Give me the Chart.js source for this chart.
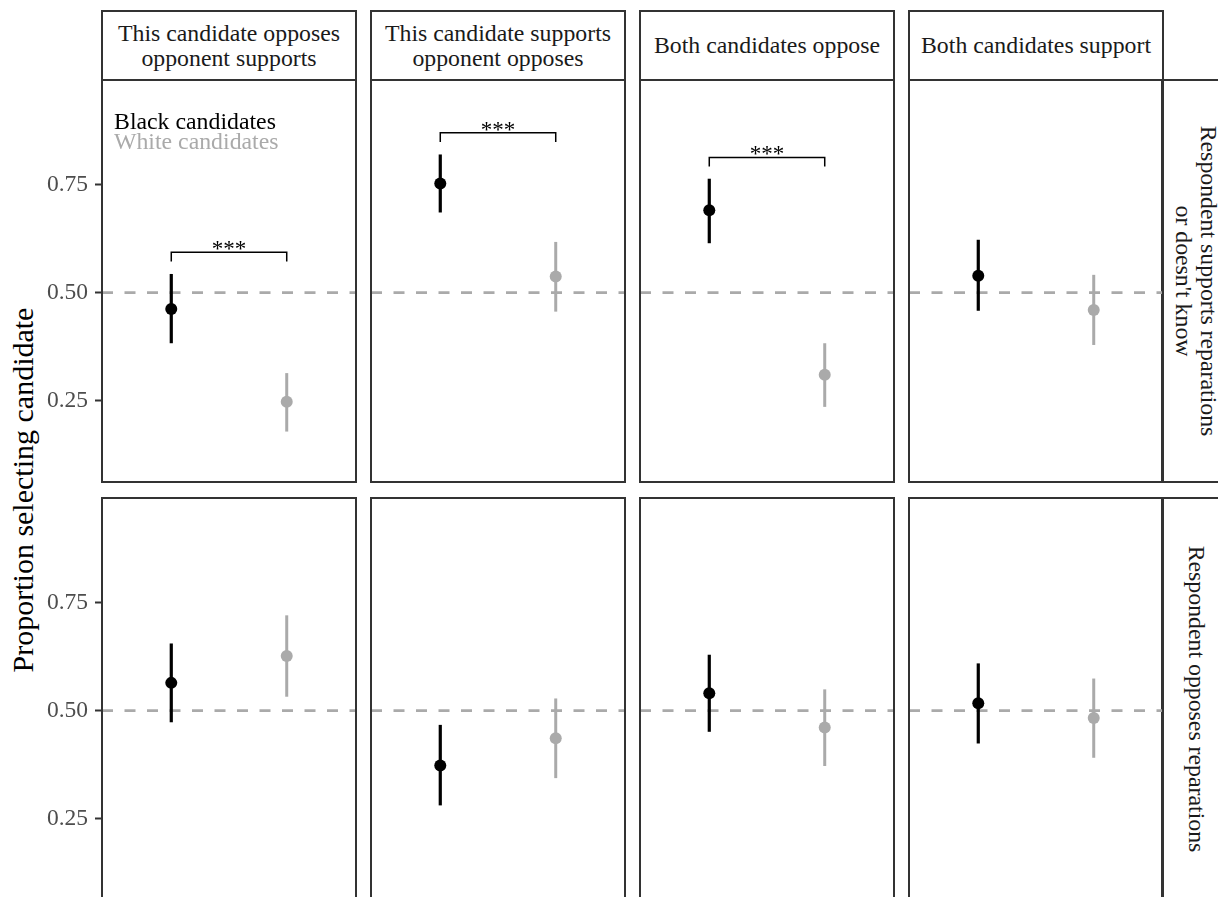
<!DOCTYPE html>
<html>
<head>
<meta charset="utf-8">
<title>Proportion selecting candidate</title>
<script src="https://cdn.jsdelivr.net/npm/chart.js@4.4.1/dist/chart.umd.min.js"></script>
<style>
  html, body { margin: 0; padding: 0; background: #fff; }
  #fig {
    position: relative; width: 1218px; height: 897px; overflow: hidden; background: #fff;
    font-family: "Liberation Serif", "Times New Roman", serif;
  }
  .strip {
    position: absolute; box-sizing: border-box; border: 2px solid #333; background: #fff;
    display: flex; align-items: center; justify-content: center;
    text-align: center; color: #1a1a1a; font-size: 23.8px; line-height: 25px; white-space: pre;
  }
  .rot { position: absolute; white-space: pre; text-align: center; }
  canvas { position: absolute; }
</style>
</head>
<body>
<div id="fig"></div>
<script>
// Facet labels
const columnFacets = [
  'This candidate opposes\nopponent supports',
  'This candidate supports\nopponent opposes',
  'Both candidates oppose',
  'Both candidates support'
];
const rowFacets = [
  "Respondent supports reparations\nor doesn't know",
  'Respondent opposes reparations'
];
const groups = ['Black candidates', 'White candidates'];
const yTitle = 'Proportion selecting candidate';

// Estimates and 95% intervals, panels in row-major order (row 1: cols 1-4, row 2: cols 1-4)
const blackEst  = [0.462, 0.752, 0.690, 0.539, 0.564, 0.373, 0.540, 0.517];
const blackLow  = [0.383, 0.685, 0.614, 0.458, 0.473, 0.281, 0.451, 0.424];
const blackHigh = [0.543, 0.819, 0.763, 0.622, 0.655, 0.467, 0.629, 0.609];
const whiteEst  = [0.248, 0.537, 0.310, 0.460, 0.626, 0.436, 0.461, 0.483];
const whiteLow  = [0.179, 0.456, 0.236, 0.379, 0.532, 0.344, 0.372, 0.391];
const whiteHigh = [0.314, 0.617, 0.383, 0.541, 0.720, 0.528, 0.549, 0.574];

// Significance brackets (null = none drawn)
const sigLabel = ['***', '***', '***', null, null, null, null, null];
const bracketY = [0.593, 0.869, 0.812, null, null, null, null, null];

const chanceLevel = 0.5;
const yTicks = [0.25, 0.5, 0.75];
const yTickLabels = ['0.25', '0.50', '0.75'];

// ---- styling / layout ----
const COLORS = { black: '#000000', white: '#aaaaaa', ref: '#aaaaaa', border: '#333333' };
const Y_MIN = 0.0625, Y_MAX = 0.991;
const X_MIN = 0.4, X_MAX = 2.6;
const COL_LEFT = [102, 371, 640, 909];
const PANEL_W = 254;
const ROW_TOP = [80, 498];
const PANEL_H = 402;
const STRIP_TOP = 11;
const AXIS_W = 102;
const BRACKET_TICK = 0.021;
const FONT = '"Liberation Serif", "Times New Roman", serif';

const fig = document.getElementById('fig');

function addDiv(cls, text, style) {
  const d = document.createElement('div');
  d.className = cls;
  d.textContent = text;
  Object.assign(d.style, style);
  fig.appendChild(d);
  return d;
}

// column strips
columnFacets.forEach((label, c) => {
  addDiv('strip', label, {
    left: (COL_LEFT[c] - 1) + 'px', top: (STRIP_TOP - 1) + 'px',
    width: (PANEL_W + 2) + 'px', height: (ROW_TOP[0] - STRIP_TOP + 2) + 'px'
  });
});

// row strips (right side)
const stripLeft = COL_LEFT[3] + PANEL_W - 1;
rowFacets.forEach((label, r) => {
  addDiv('strip', '', {
    left: (stripLeft - 1) + 'px', top: (ROW_TOP[r] - 1) + 'px',
    width: '90px', height: (PANEL_H + 2) + 'px'
  });
  addDiv('rot', label, {
    left: (stripLeft + 33.5) + 'px', top: (ROW_TOP[r] + PANEL_H / 2) + 'px',
    transform: 'translate(-50%, -50%) rotate(90deg)',
    fontSize: '23.8px', lineHeight: '25px', color: '#1a1a1a'
  });
});

// y-axis title
addDiv('rot', yTitle, {
  left: '23px', top: '490px',
  transform: 'translate(-50%, -50%) rotate(-90deg)',
  fontSize: '30px', lineHeight: '30px', color: '#000'
});

// panel frame, significance stars and in-panel key
const panelDecor = {
  id: 'panelDecor',
  afterDatasetsDraw(chart, args, opts) {
    const { ctx, scales: { x, y } } = chart;
    ctx.save();
    if (opts.stars) {
      ctx.font = '23px ' + FONT;
      ctx.fillStyle = '#000';
      ctx.textAlign = 'center';
      ctx.textBaseline = 'alphabetic';
      ctx.fillText(opts.stars, x.getPixelForValue(1.5), y.getPixelForValue(opts.bracket) + 4);
    }
    if (opts.key) {
      ctx.font = '23.8px ' + FONT;
      ctx.textAlign = 'left';
      ctx.textBaseline = 'alphabetic';
      opts.key.forEach(k => {
        ctx.fillStyle = k.color;
        ctx.fillText(k.text, x.getPixelForValue(k.x), y.getPixelForValue(k.y));
      });
    }
    ctx.restore();
  },
  afterDraw(chart) {
    const { ctx, chartArea: a } = chart;
    ctx.save();
    ctx.strokeStyle = COLORS.border;
    ctx.lineWidth = 2;
    ctx.strokeRect(a.left, a.top, a.right - a.left, a.bottom - a.top);
    ctx.restore();
  }
};

function panelDatasets(i) {
  const ds = [
    {
      label: groups.join(' / '),
      data: [{ x: 1, y: blackEst[i] }, { x: 2, y: whiteEst[i] }],
      showLine: false, pointRadius: 6, pointBorderWidth: 0,
      pointBackgroundColor: [COLORS.black, COLORS.white], order: 0
    },
    {
      label: groups[0],
      data: [{ x: 1, y: blackLow[i] }, { x: 1, y: blackHigh[i] }],
      showLine: true, pointRadius: 0, borderColor: COLORS.black, borderWidth: 3.2, order: 1
    },
    {
      label: groups[1],
      data: [{ x: 2, y: whiteLow[i] }, { x: 2, y: whiteHigh[i] }],
      showLine: true, pointRadius: 0, borderColor: COLORS.white, borderWidth: 3, order: 1
    },
    {
      label: 'chance',
      data: [{ x: X_MIN, y: chanceLevel }, { x: X_MAX, y: chanceLevel }],
      showLine: true, pointRadius: 0, borderColor: COLORS.ref, borderWidth: 2.6,
      borderDash: [11, 11.5], order: 3
    }
  ];
  if (bracketY[i] != null) {
    const b = bracketY[i];
    ds.push({
      label: 'bracket',
      data: [{ x: 1, y: b - BRACKET_TICK }, { x: 1, y: b }, { x: 2, y: b }, { x: 2, y: b - BRACKET_TICK }],
      showLine: true, pointRadius: 0, borderColor: '#000', borderWidth: 1.5,
      borderJoinStyle: 'miter', order: 1
    });
  }
  return ds;
}

for (let r = 0; r < 2; r++) {
  for (let c = 0; c < 4; c++) {
    const i = r * 4 + c;
    const first = c === 0;
    const cv = document.createElement('canvas');
    const left = first ? 0 : COL_LEFT[c] - 1;
    const w = first ? COL_LEFT[0] + PANEL_W + 1 : PANEL_W + 2;
    const h = PANEL_H + 2;
    cv.width = w; cv.height = h;
    cv.style.left = left + 'px';
    cv.style.top = (ROW_TOP[r] - 1) + 'px';
    cv.style.width = w + 'px'; cv.style.height = h + 'px';
    fig.appendChild(cv);

    const key = (i === 0) ? [
      { text: groups[0], color: COLORS.black, x: 0.504, y: 0.878 },
      { text: groups[1], color: COLORS.white, x: 0.504, y: 0.832 }
    ] : null;

    new Chart(cv, {
      type: 'scatter',
      data: { datasets: panelDatasets(i) },
      options: {
        responsive: false, animation: false, events: [],
        layout: { autoPadding: false, padding: { left: first ? 0 : 1, right: 1, top: 1, bottom: 1 } },
        plugins: {
          legend: { display: false },
          tooltip: { enabled: false },
          panelDecor: { stars: sigLabel[i], bracket: bracketY[i], key }
        },
        scales: {
          x: { type: 'linear', min: X_MIN, max: X_MAX, display: false },
          y: {
            type: 'linear', min: Y_MIN, max: Y_MAX, display: first,
            afterBuildTicks: s => { s.ticks = yTicks.map(v => ({ value: v })); },
            afterFit: s => {
              if (first) { s.width = AXIS_W; s.paddingTop = 0; s.paddingBottom = 0; }
            },
            grid: { drawOnChartArea: false, drawTicks: true, tickLength: 7, tickColor: COLORS.border, tickWidth: 2 },
            border: { display: false },
            ticks: {
              padding: 7, color: '#4d4d4d',
              font: { family: FONT, size: 23.5 },
              callback: v => yTickLabels[yTicks.indexOf(v)] ?? ''
            }
          }
        }
      },
      plugins: [panelDecor]
    });
  }
}
</script>
</body>
</html>
